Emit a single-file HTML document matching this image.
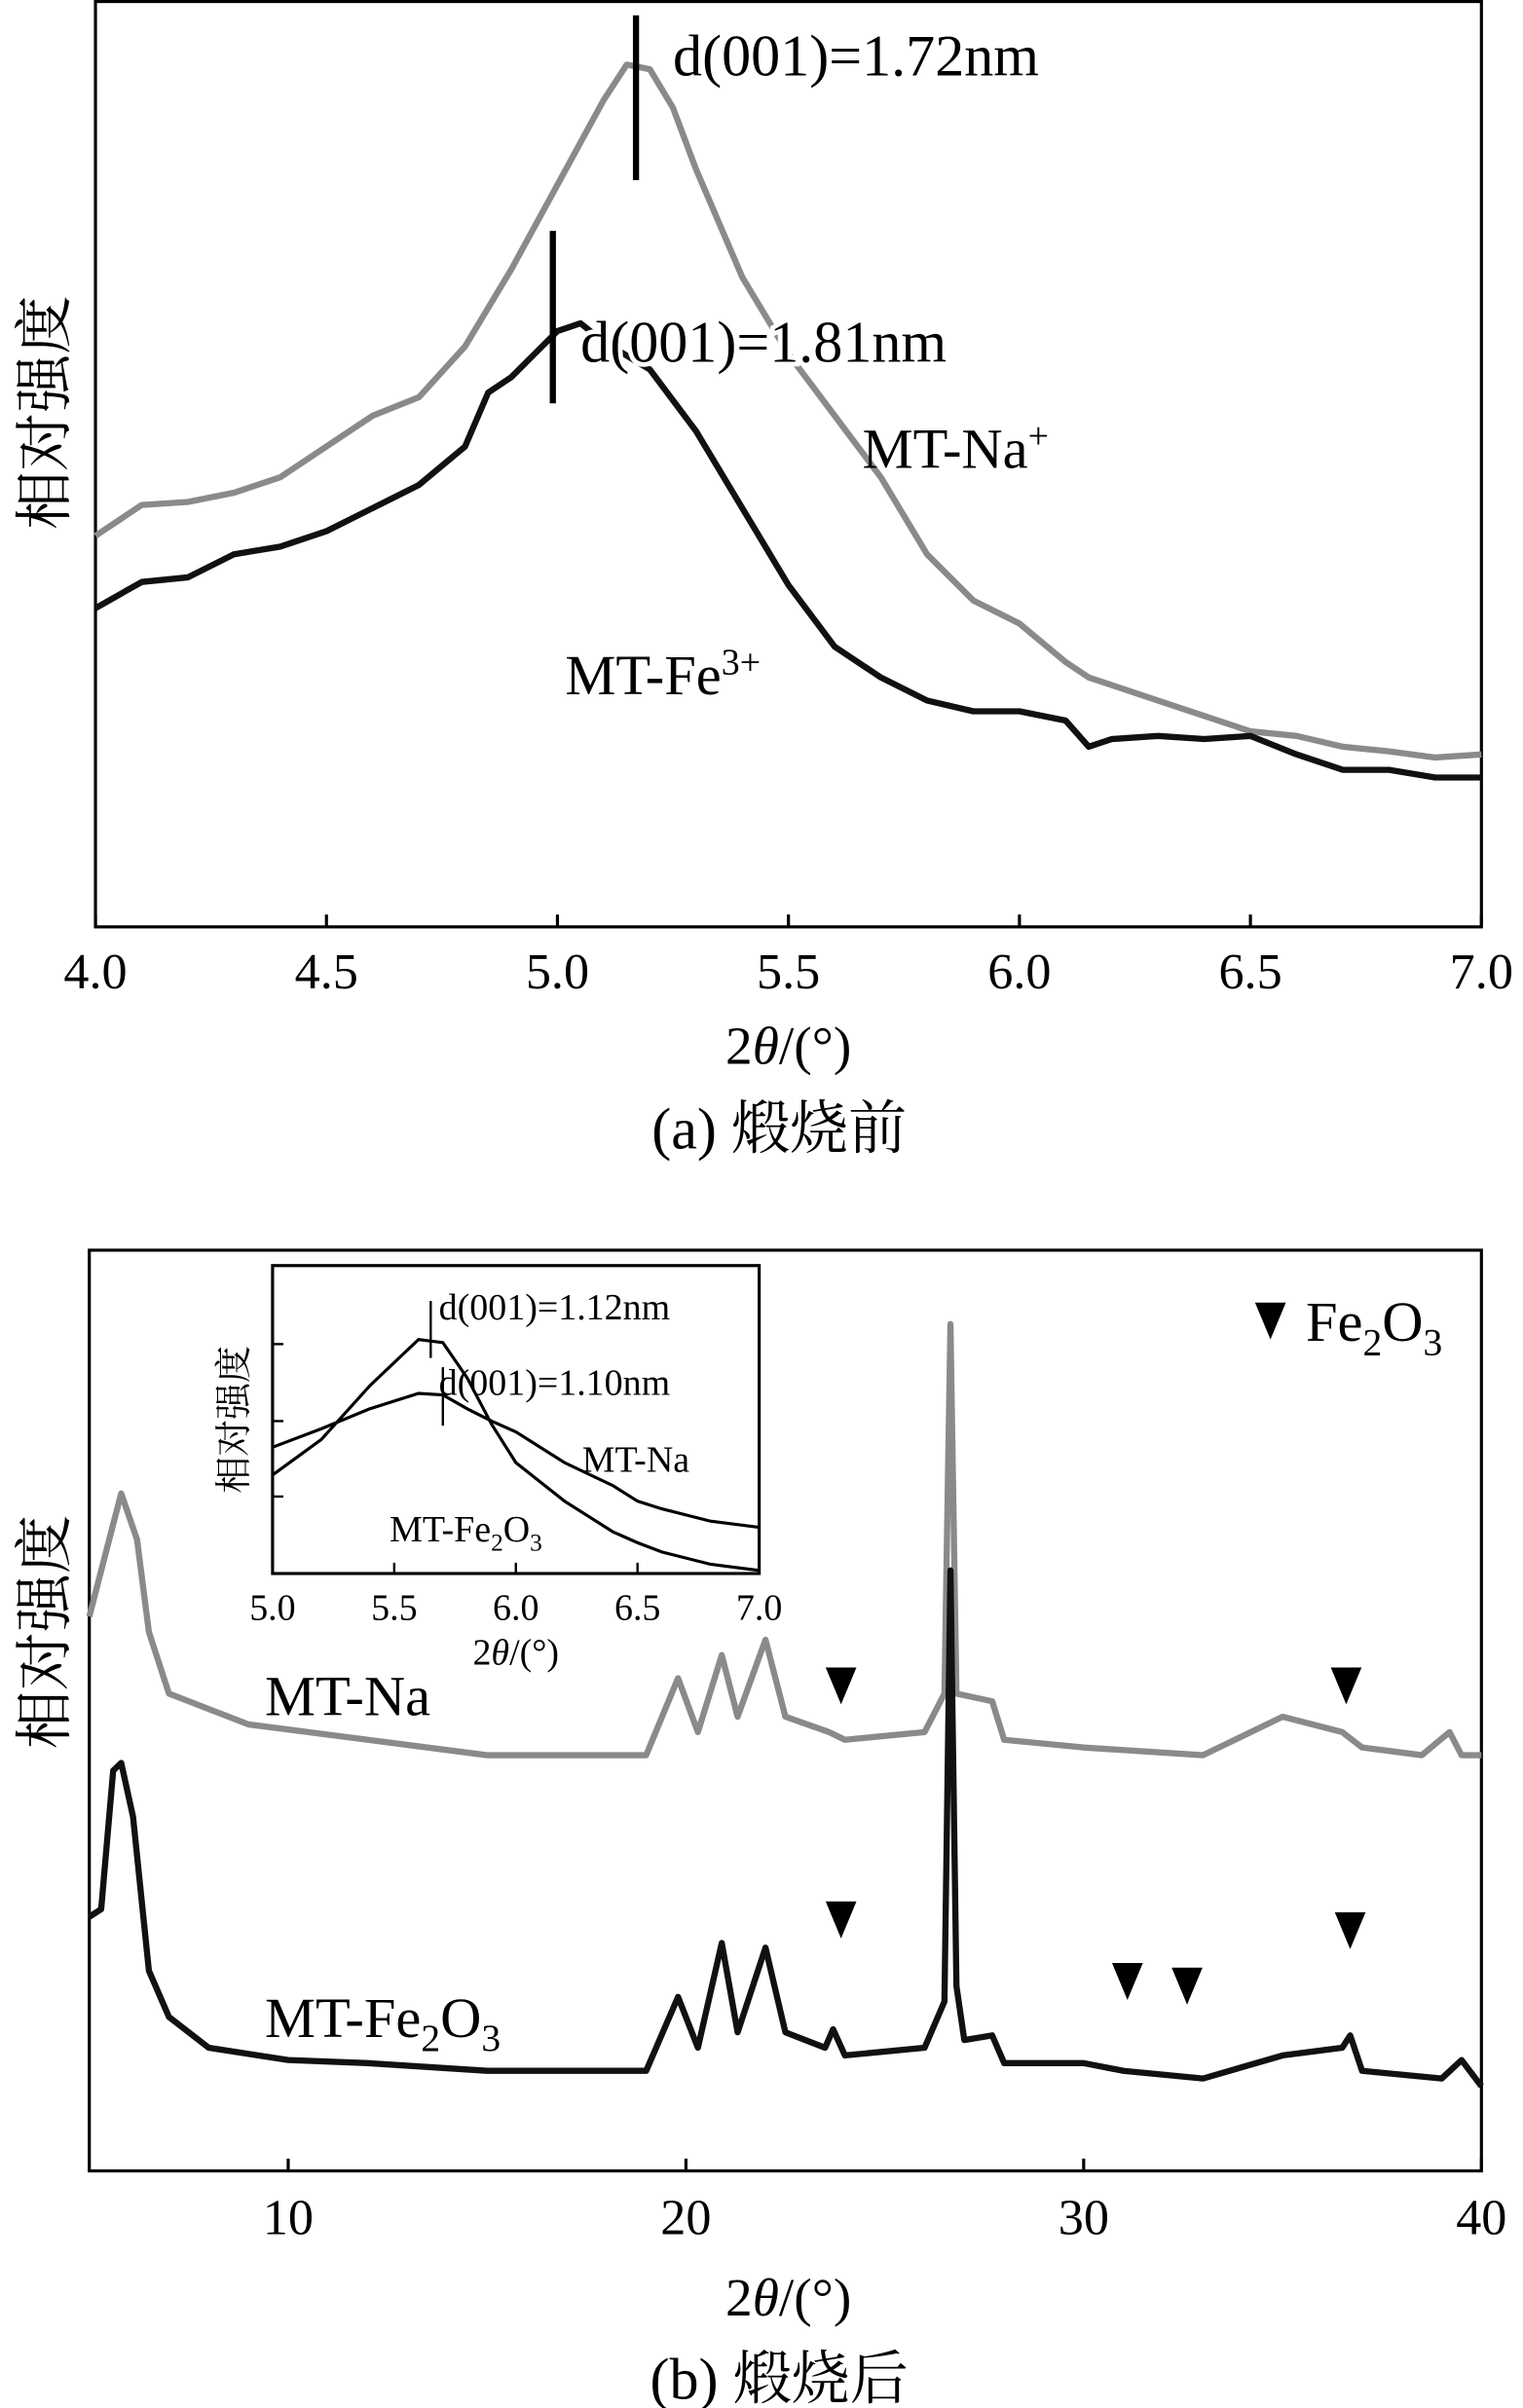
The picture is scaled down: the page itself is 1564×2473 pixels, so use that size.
<!DOCTYPE html>
<html><head><meta charset="utf-8"><style>
html,body{margin:0;padding:0;background:#fff;}
svg{display:block;}
text{font-family:"Liberation Serif","Noto Serif CJK SC",serif;fill:#000;}
.cjk{font-family:"Liberation Serif","Noto Serif CJK SC","Noto Sans CJK SC",serif;}
</style></head><body>
<svg id="chart" width="1564" height="2473" viewBox="0 0 989 1564" preserveAspectRatio="none" xmlns="http://www.w3.org/2000/svg">
<rect x="0" y="0" width="989" height="1564" fill="#fff"/>
<g id="pa"></g>
<g id="pb"></g>
<g id="pi"></g>
</svg>
<script>
// ---- Panel (a) data ----
const aTheta = [4.0,4.1,4.2,4.3,4.4,4.5,4.6,4.7,4.8,4.9,5.0,5.1,5.15,5.2,5.25,5.3,5.4,5.5,5.6,5.7,5.8,5.9,6.0,6.1,6.15,6.2,6.3,6.4,6.5,6.6,6.7,6.8,6.9,7.0];
const aNa = [254,274,276,282,292,312,332,344,377,427,482,537,560,557,532,492,422,372,332,292,242,212,197,172,162,157,147,137,127,124,117,114,110,112];
const aFeTheta = [4.0,4.1,4.2,4.3,4.4,4.5,4.6,4.7,4.8,4.85,4.9,4.95,5.0,5.05,5.1,5.2,5.3,5.4,5.5,5.6,5.7,5.8,5.9,6.0,6.1,6.15,6.2,6.3,6.4,6.5,6.6,6.7,6.8,6.9,7.0];
const aFe = [207,224,227,242,247,257,272,287,312,347,357,372,387,392,380,362,322,272,222,182,162,147,140,140,134,117,122,124,122,124,112,102,102,97,97];
const aTicks = [4.0,4.5,5.0,5.5,6.0,6.5,7.0];
const aTickLabels = ["4.0","4.5","5.0","5.5","6.0","6.5","7.0"];
// ---- Panel (b) data ----
const bNaTheta = [5.0,5.5,5.8,6.2,6.5,7,9,12,15,19,19.8,20.3,20.9,21.3,22,22.5,23.6,24,26,26.5,26.65,26.8,27.7,28,30,33,35,36.5,37,38.5,39.2,39.5,40];
const bNa = [360,410,440,410,350,310,290,280,270,270,320,285,335,295,345,295,285,280,285,310,550,310,305,280,275,270,295,285,275,270,285,270,270];
const bFeTheta = [5.0,5.3,5.6,5.8,6.1,6.5,7,8,10,12,15,19,19.8,20.3,20.9,21.3,22,22.5,23.5,23.7,24,26,26.5,26.65,26.8,27,27.7,28,30,31,33,35,36.5,36.7,37,39,39.5,40];
const bFe = [165,170,260,265,230,130,100,80,72,70,65,65,113,80,148,90,145,90,80,92,75,80,110,390,120,85,88,70,70,65,60,75,80,88,65,60,72,55];
const bTicks = [10,20,30,40];
const bTickLabels = ["10","20","30","40"];
const bMarkNa = [23.9,36.6];
const bMarkFe = [[23.9,125],[31.1,85],[32.6,82],[36.7,118]];
// ---- Inset data ----
const iTheta = [5.0,5.2,5.4,5.6,5.7,5.8,5.9,6.0,6.2,6.4,6.5,6.6,6.8,7.0];
const iFe = [64,87,122,152,150,127,97,72,47,27,20,14,6,2];
const iNa = [82,94,107,117,116,107,99,92,72,57,47,42,34,30];
const iTicks = [5.0,5.5,6.0,6.5,7.0];
const iTickLabels = ["5.0","5.5","6.0","6.5","7.0"];

const NS="http://www.w3.org/2000/svg";
function mk(parent,tag,attrs,txt){const e=document.createElementNS(NS,tag);for(const k in attrs)e.setAttribute(k,attrs[k]);if(txt!==undefined)e.textContent=txt;parent.appendChild(e);return e;}
function poly(xs,ys,fx,fy){return xs.map((x,i)=>fx(x).toFixed(1)+","+fy(ys[i]).toFixed(1)).join(" ");}

// Panel a
const pa=document.getElementById('pa');
const ax=v=>62+(v-4)*300, ay=v=>602-v;
let e;
e=mk(pa,'rect',{x:62,y:1,width:900,height:601,fill:'none',stroke:'#000','stroke-width':2});

e=mk(pa,'polyline',{points:poly(aTheta,aNa,ax,ay),fill:'none',stroke:'#8a8a8a','stroke-width':4,'stroke-linejoin':'round'});

e=mk(pa,'polyline',{points:poly(aFeTheta,aFe,ax,ay),fill:'none',stroke:'#111','stroke-width':4,'stroke-linejoin':'round'});

aTicks.forEach((t,i)=>{
  e=mk(pa,'line',{x1:ax(t),x2:ax(t),y1:602,y2:594,stroke:'#000','stroke-width':2});
  
  e=mk(pa,'text',{x:ax(t),y:642,'font-size':33,'text-anchor':'middle'},aTickLabels[i]);
  
});
e=mk(pa,'line',{x1:ax(5.17),x2:ax(5.17),y1:10,y2:117,stroke:'#000','stroke-width':4});

e=mk(pa,'line',{x1:ax(4.99),x2:ax(4.99),y1:150,y2:262,stroke:'#000','stroke-width':4});

e=mk(pa,'text',{x:437,y:49,'font-size':38},'d(001)=1.72nm');

e=mk(pa,'text',{x:377,y:235,'font-size':38,stroke:'#fff','stroke-width':6,'paint-order':'stroke'},'d(001)=1.81nm');

e=mk(pa,'text',{x:560,y:304,'font-size':37},'MT-Na');mk(e,'tspan',{'font-size':24,dy:-13},'+');

e=mk(pa,'text',{x:367,y:451,'font-size':37},'MT-Fe');mk(e,'tspan',{'font-size':24,dy:-13},'3+');

e=mk(pa,'text',{x:42,y:268,'font-size':38,'text-anchor':'middle',transform:'rotate(-90 42 268)',class:'cjk'},'相对强度');

e=mk(pa,'text',{x:512,y:691,'font-size':35,'text-anchor':'middle'},'2');mk(e,'tspan',{'font-style':'italic'},'θ');mk(e,'tspan',{},'/(°)');

e=mk(pa,'text',{x:506,y:746,'font-size':38,'text-anchor':'middle',class:'cjk'},'(a) 煅烧前');


// Panel b
const pb=document.getElementById('pb');
const bx=v=>58+(v-5)*(904/35), by=v=>1410-v;
e=mk(pb,'rect',{x:58,y:812,width:904,height:598,fill:'none',stroke:'#000','stroke-width':2});

e=mk(pb,'polyline',{points:poly(bNaTheta,bNa,bx,by),fill:'none',stroke:'#8a8a8a','stroke-width':4,'stroke-linejoin':'round'});

e=mk(pb,'polyline',{points:poly(bFeTheta,bFe,bx,by),fill:'none',stroke:'#111','stroke-width':4,'stroke-linejoin':'round'});

bTicks.forEach((t,i)=>{
  e=mk(pb,'line',{x1:bx(t),x2:bx(t),y1:1410,y2:1402,stroke:'#000','stroke-width':2});
  
  e=mk(pb,'text',{x:bx(t),y:1451,'font-size':33,'text-anchor':'middle'},bTickLabels[i]);
  
});
function tri(parent,cx,cy){const p=mk(parent,'polygon',{points:`${cx-10},${cy-12} ${cx+10},${cy-12} ${cx},${cy+12}`,fill:'#000'});return p;}
bMarkNa.forEach(t=>{e=tri(pb,bx(t),1095);});
bMarkFe.forEach(m=>{e=tri(pb,bx(m[0]),by(m[1])-38);});
e=tri(pb,825,858);
e=mk(pb,'text',{x:848,y:871,'font-size':37},'Fe');mk(e,'tspan',{'font-size':25,dy:9},'2');mk(e,'tspan',{dy:-9},'O');mk(e,'tspan',{'font-size':25,dy:9},'3');

e=mk(pb,'text',{x:172,y:1114,'font-size':37},'MT-Na');

e=mk(pb,'text',{x:172,y:1323,'font-size':37},'MT-Fe');mk(e,'tspan',{'font-size':25,dy:9},'2');mk(e,'tspan',{dy:-9},'O');mk(e,'tspan',{'font-size':25,dy:9},'3');

e=mk(pb,'text',{x:42,y:1060,'font-size':38,'text-anchor':'middle',transform:'rotate(-90 42 1060)',class:'cjk'},'相对强度');

e=mk(pb,'text',{x:512,y:1504,'font-size':35,'text-anchor':'middle'},'2');mk(e,'tspan',{'font-style':'italic'},'θ');mk(e,'tspan',{},'/(°)');

e=mk(pb,'text',{x:506,y:1558,'font-size':38,'text-anchor':'middle',class:'cjk'},'(b) 煅烧后');


// Inset
const pi=document.getElementById('pi');
const ix=v=>177+(v-5)*158, iy=v=>1022-v;
e=mk(pi,'rect',{x:177,y:822,width:316,height:200,fill:'#fff',stroke:'#000','stroke-width':2});

e=mk(pi,'polyline',{points:poly(iTheta,iFe,ix,iy),fill:'none',stroke:'#000','stroke-width':2});

e=mk(pi,'polyline',{points:poly(iTheta,iNa,ix,iy),fill:'none',stroke:'#000','stroke-width':2});

[873,923,972].forEach(y=>{e=mk(pi,'line',{x1:177,x2:184,y1:y,y2:y,stroke:'#000','stroke-width':1.5});});
iTicks.forEach((t,i)=>{
  e=mk(pi,'line',{x1:ix(t),x2:ix(t),y1:1022,y2:1015,stroke:'#000','stroke-width':1.5});
  
  e=mk(pi,'text',{x:ix(t),y:1052,'font-size':24,'text-anchor':'middle'},iTickLabels[i]);
  
});
e=mk(pi,'line',{x1:ix(5.65),x2:ix(5.65),y1:845,y2:882,stroke:'#000','stroke-width':1.5});

e=mk(pi,'line',{x1:ix(5.7),x2:ix(5.7),y1:888,y2:926,stroke:'#000','stroke-width':1.5});

e=mk(pi,'text',{x:285,y:857,'font-size':24},'d(001)=1.12nm');

e=mk(pi,'text',{x:285,y:906,'font-size':24},'d(001)=1.10nm');

e=mk(pi,'text',{x:378,y:956,'font-size':24},'MT-Na');

e=mk(pi,'text',{x:253,y:1001,'font-size':24},'MT-Fe');mk(e,'tspan',{'font-size':16,dy:6},'2');mk(e,'tspan',{dy:-6},'O');mk(e,'tspan',{'font-size':16,dy:6},'3');

e=mk(pi,'text',{x:160,y:922,'font-size':24,'text-anchor':'middle',transform:'rotate(-90 160 922)',class:'cjk'},'相对强度');

e=mk(pi,'text',{x:335,y:1081,'font-size':24,'text-anchor':'middle'},'2');mk(e,'tspan',{'font-style':'italic'},'θ');mk(e,'tspan',{},'/(°)');

</script>
</body></html>
